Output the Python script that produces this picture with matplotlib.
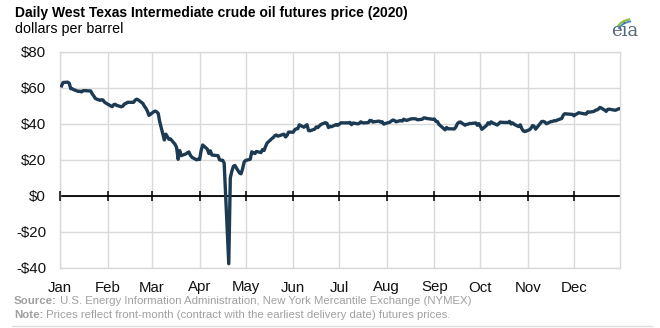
import numpy as np
import pandas as pd
import matplotlib
matplotlib.use("Agg")
import matplotlib.pyplot as plt
from matplotlib.patches import Arc

plt.rcParams['font.family'] = ['Liberation Sans', 'DejaVu Sans']

# NYMEX trading holidays in 2020 (no settlement on these days)
holidays = ["2020-01-01", "2020-01-20", "2020-02-17", "2020-04-10", "2020-05-25",
            "2020-07-03", "2020-09-07", "2020-11-26", "2020-12-25"]

# daily settlement prices, dollars per barrel, one list per month
jan = [61.18, 63.05, 63.27, 62.70, 59.61, 59.56, 59.04, 58.08, 58.23, 57.81, 58.52,
       58.54, 58.34, 56.74, 55.59, 54.19, 53.14, 53.48, 53.33, 52.14, 51.56]
feb = [50.11, 49.61, 50.75, 50.95, 50.32, 49.57, 49.94, 51.17, 51.42, 52.05, 52.05,
       53.29, 53.78, 53.38, 51.43, 49.90, 48.73, 47.09, 44.76]
mar = [46.75, 47.18, 46.78, 45.90, 41.28, 31.13, 34.36, 32.98, 31.50, 31.73, 28.70,
       26.95, 20.37, 25.22, 22.43, 23.36, 24.01, 24.49, 22.60, 21.51, 20.09, 20.48]
apr = [20.31, 25.32, 28.34, 26.08, 23.63, 25.09, 22.76, 22.41, 20.11, 19.87, 19.87,
       18.27, -37.63, 10.01, 13.78, 16.50, 16.94, 12.78, 12.34, 15.06, 18.84]
may = [19.78, 20.39, 24.56, 23.99, 23.55, 24.74, 24.14, 25.78, 25.29, 27.56, 29.43,
       31.82, 32.50, 33.49, 33.92, 33.25, 34.35, 32.81, 33.71, 35.49]
jun = [35.44, 36.81, 37.29, 37.41, 39.55, 38.19, 38.94, 39.60, 36.34, 36.26, 37.12,
       38.38, 37.96, 38.84, 39.75, 40.73, 40.37, 38.01, 38.72, 38.49, 39.70, 39.27]
jul = [39.82, 40.65, 40.63, 40.62, 40.90, 39.62, 40.55, 40.10, 40.29, 41.20, 40.75,
       40.59, 40.81, 41.96, 41.90, 41.07, 41.29, 41.60, 41.04, 41.27, 39.92, 40.27]
aug = [41.01, 41.70, 42.19, 41.95, 41.22, 41.94, 41.61, 42.67, 42.24, 42.01, 42.89,
       42.89, 42.93, 42.82, 42.34, 42.62, 43.35, 43.39, 43.04, 42.97, 42.61]
sep = [42.76, 41.51, 41.37, 39.77, 36.76, 38.05, 37.30, 37.33, 37.26, 38.28, 40.16,
       40.97, 41.11, 39.31, 39.80, 39.93, 40.31, 40.25, 40.60, 39.29, 40.22]
oct_ = [38.72, 37.05, 39.22, 40.67, 39.95, 41.19, 40.60, 39.43, 40.20, 41.04, 40.96,
        40.88, 40.83, 41.46, 40.03, 40.64, 39.85, 38.56, 39.57, 37.39, 36.17, 35.79]
nov = [36.81, 37.66, 39.15, 38.79, 37.14, 40.29, 41.36, 41.45, 41.12, 40.13, 41.34,
       41.43, 41.82, 41.74, 42.15, 43.06, 44.91, 45.71, 45.53, 45.34]
dec = [44.55, 45.28, 45.64, 46.26, 45.76, 45.60, 45.52, 46.78, 46.57, 46.99, 47.62,
       47.82, 48.36, 49.24, 47.74, 47.02, 48.12, 48.23, 47.62, 48.00, 48.40, 48.52]

month_labels = ["Jan", "Feb", "Mar", "Apr", "May", "Jun",
                "Jul", "Aug", "Sep", "Oct", "Nov", "Dec"]
y_ticks = [-40, -20, 0, 20, 40, 60, 80]

prices = jan + feb + mar + apr + may + jun + jul + aug + sep + oct_ + nov + dec
dates = pd.bdate_range("2020-01-01", "2020-12-31", freq="C", holidays=holidays)

line_color = "#1c3b53"
grid_color = "#d9d9d9"

fig = plt.figure(figsize=(6.6, 3.28), dpi=100)
ax = fig.add_axes([60 / 660, 1 - 268 / 328, 560 / 660, 216 / 328])

ax.axhline(0, color="black", lw=1.3, zorder=2.5)
ax.plot(dates, prices, color=line_color, lw=2.4, solid_joinstyle="round", zorder=3)

month_starts = pd.date_range("2020-01-01", periods=12, freq="MS")
ax.set_xlim(pd.Timestamp("2020-01-01"), pd.Timestamp("2020-12-31"))
ax.set_ylim(-40, 80)
ax.set_xticks(month_starts)
ax.set_xticklabels(month_labels)
ax.set_yticks(y_ticks)
ax.set_yticklabels([f"-${-v}" if v < 0 else f"${v}" for v in y_ticks])
ax.tick_params(axis="both", length=0, labelsize=10.8, colors="#111111")
ax.tick_params(axis="x", pad=9)
ax.tick_params(axis="y", pad=10)
ax.grid(True, color=grid_color, lw=1)
ax.set_axisbelow(True)
for s in ax.spines.values():
    s.set_color(grid_color)
    s.set_linewidth(1)

# month tick marks across the zero line
zero_ax = ax.secondary_xaxis(40 / 120)
zero_ax.set_zorder(4)
zero_ax.set_xticks(month_starts)
zero_ax.set_xticklabels([])
zero_ax.tick_params(direction="inout", length=7, width=1.1, color="black")
zero_ax.spines["bottom"].set_visible(False)

fig.text(15 / 660, 1 - 6 / 328, "Daily West Texas Intermediate crude oil futures price (2020)",
         fontsize=10, fontweight="bold", va="top", ha="left")
fig.text(15 / 660, 1 - 22 / 328, "dollars per barrel", fontsize=10.3, va="top", ha="left")

# source and note lines
fig.canvas.draw()
renderer = fig.canvas.get_renderer()
gray = "#a0a0a0"
for y, head, body in [(296, "Source:", " U.S. Energy Information Administration, New York Mercantile Exchange (NYMEX)"),
                      (310, "Note:", " Prices reflect front-month (contract with the earliest delivery date) futures prices.")]:
    t = fig.text(14 / 660, 1 - y / 328, head, fontsize=8.2, fontweight="bold", color=gray, va="top")
    bb = t.get_window_extent(renderer)
    fig.text(bb.x1 / fig.bbox.width, 1 - y / 328, body, fontsize=8.2, color=gray, va="top")

fig.add_artist(plt.Line2D([12 / 660, 652 / 660], [1 - 326 / 328] * 2, color="#dddddd", lw=1))

# eia logo
fig.text(625 / 660, 1 - 36 / 328, "eia", fontsize=13, family="DejaVu Serif",
         color="#56677a", ha="center", va="baseline")
fig.add_artist(Arc((634 / 660, 1 - 30 / 328), 34 / 660, 22 / 328, theta1=100, theta2=160,
                   transform=fig.transFigure, color="#8dbb3a", lw=1.5))
fig.add_artist(Arc((635 / 660, 1 - 32 / 328), 34 / 660, 22 / 328, theta1=100, theta2=160,
                   transform=fig.transFigure, color="#3a8fc4", lw=1.3))

fig.savefig("out.png", dpi=100)
